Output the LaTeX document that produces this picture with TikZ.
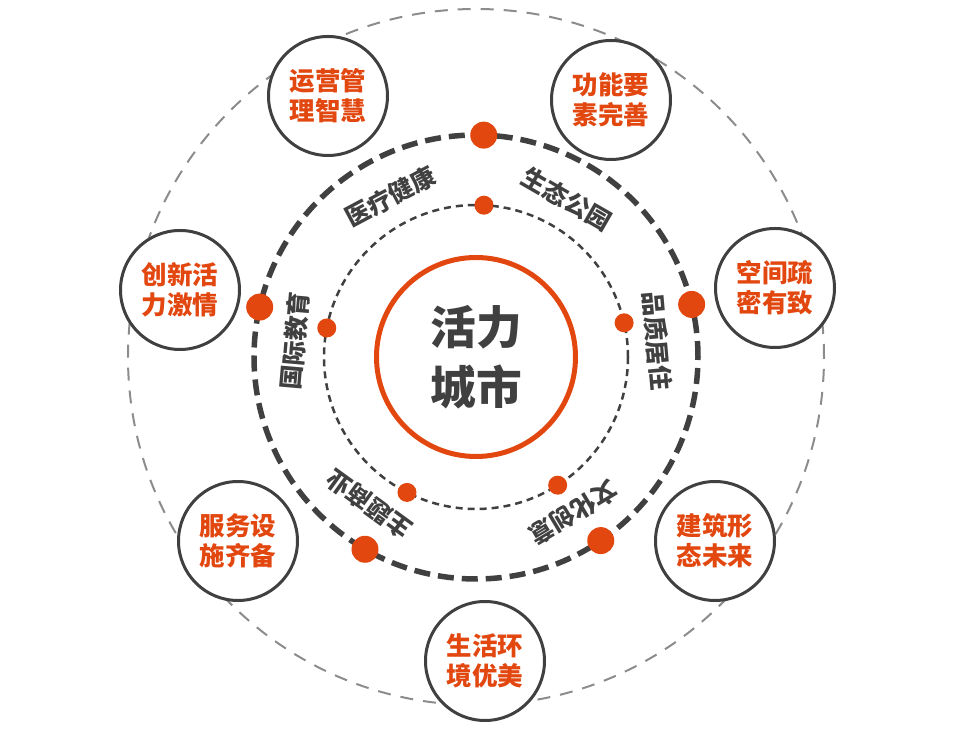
\documentclass[tikz,border=0pt]{standalone}
\usepackage{xcolor}
\usepackage{tikz}
\usepackage{fontspec}
\setmainfont{Noto Sans CJK SC}
\definecolor{vcOrange}{HTML}{E2470F}
\definecolor{vcDark}{HTML}{404040}
\definecolor{vcGrey}{HTML}{8C8C8C}
\tikzset{
  hub/.style={circle,draw=vcOrange,line width=0.1cm,minimum size=3.98cm,
    align=center,text=vcDark,font=\fontsize{26}{34}\selectfont\bfseries},
  petal/.style={circle,draw=vcDark,line width=0.06cm,fill=white,
    minimum size=2.38cm,align=center,text=vcOrange,
    font=\fontsize{14.5}{17}\selectfont\bfseries},
  ringlabel/.style={text=vcDark,font=\fontsize{14}{16}\selectfont\bfseries},
  smalldot/.style={circle,fill=vcOrange,inner sep=0pt,minimum size=0.38cm},
  bigdot/.style={circle,fill=vcOrange,inner sep=0pt,minimum size=0.54cm},
  outerring/.style={draw=vcGrey,line width=0.04cm,dash pattern=on 0.26cm off 0.2cm},
  midring/.style={draw=vcDark,line width=0.11cm,dash pattern=on 0.32cm off 0.16cm},
  innerring/.style={draw=vcDark,line width=0.05cm,dash pattern=on 0.14cm off 0.1cm}
}

\begin{document}
\begin{tikzpicture}
\useasboundingbox (-9.52,-7.48) rectangle (9.68,7.14);
\node[hub] (hub) at (0,0) {活力\\城市};

% three rings round the hub
\draw[outerring] (hub.center) circle (6.96);
\draw[midring] (hub.center) circle (4.44);
\draw[innerring] (hub.center) circle (3.04);

% labels between the rings
\node[ringlabel, rotate=28] (med) at (118:3.64) {医疗健康};
\node[ringlabel, rotate=-30] (park) at (60:3.64) {生态公园};
\node[ringlabel, rotate=-85] (home) at (5:3.64) {品质居住};
\node[ringlabel, rotate=85] (edu) at (175:3.64) {国际教育};
\node[ringlabel, rotate=144] (shop) at (-126:3.64) {主题商业};
\node[ringlabel, rotate=-149] (cult) at (-58:3.68) {文化创意};

% dots on the inner ring
\node[smalldot] (ia) at (87:3.04) {};
\node[smalldot] (ib) at (13:3.04) {};
\node[smalldot] (ic) at (169:3.04) {};
\node[smalldot] (id) at (-117:3.04) {};
\node[smalldot] (ie) at (-57.5:3.04) {};

% dots on the middle ring
\node[bigdot] (ma) at (88:4.44) {};
\node[bigdot] (mb) at (13.7:4.44) {};
\node[bigdot] (mc) at (167:4.44) {};
\node[bigdot] (md) at (-120:4.44) {};
\node[bigdot] (me) at (-55.8:4.44) {};

% outer circles
\node[petal] (ops) at (-2.96,5.22) {运营管\\理智慧};
\node[petal] (func) at (2.70,5.14) {功能要\\素完善};
\node[petal] (space) at (5.98,1.38) {空间疏\\密有致};
\node[petal] (arch) at (4.78,-3.68) {建筑形\\态未来};
\node[petal] (env) at (0.18,-6.08) {生活环\\境优美};
\node[petal] (serv) at (-4.76,-3.68) {服务设\\施齐备};
\node[petal] (inno) at (-5.92,1.34) {创新活\\力激情};
\end{tikzpicture}
\end{document}
